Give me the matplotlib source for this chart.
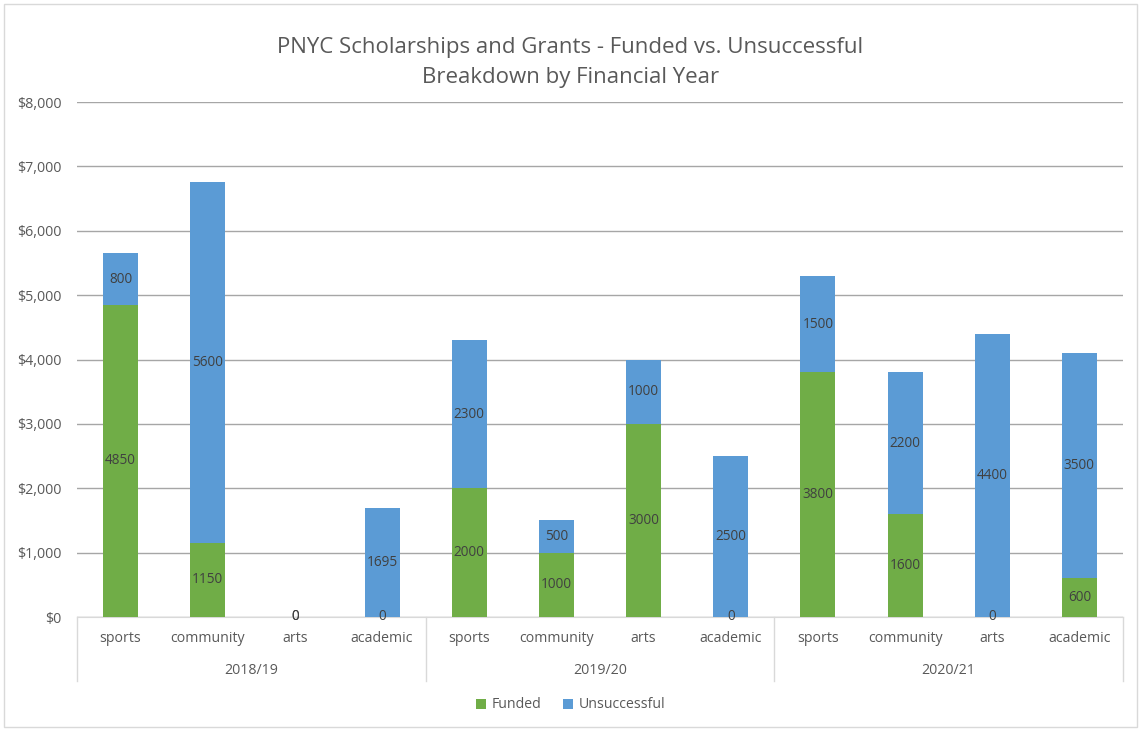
import numpy as np
import matplotlib.pyplot as plt
from matplotlib.patches import Rectangle
from matplotlib.ticker import FuncFormatter
import matplotlib.transforms as mtransforms

plt.rcParams['font.family'] = ['Open Sans', 'DejaVu Sans']

# Data
years = ["2018/19", "2019/20", "2020/21"]
categories = ["sports", "community", "arts", "academic"]
funded = [4850, 1150, 0, 0,
          2000, 1000, 3000, 0,
          3800, 1600, 0, 600]
unsuccessful = [800, 5600, 0, 1695,
                2300, 500, 1000, 2500,
                1500, 2200, 4400, 3500]
title_lines = ["PNYC Scholarships and Grants - Funded vs. Unsuccessful",
               "Breakdown by Financial Year"]

green = "#70ad47"
blue = "#5b9bd5"
text_col = "#595959"
label_col = "#404040"

W, H = 1141, 731
fig = plt.figure(figsize=(W / 100, H / 100), dpi=100)
ax = fig.add_axes([77 / W, 1 - 617 / H, (1123 - 77) / W, (617 - 102) / H])

x = np.arange(len(funded))
b1 = ax.bar(x, funded, width=0.4, color=green, label="Funded", zorder=3)
b2 = ax.bar(x, unsuccessful, width=0.4, bottom=funded, color=blue,
            label="Unsuccessful", zorder=3)

# data labels
for i in range(len(x)):
    ax.text(x[i], funded[i] / 2, str(funded[i]), ha="center", va="center",
            fontsize=9.8, color=label_col, zorder=4)
    ax.text(x[i], funded[i] + unsuccessful[i] / 2, str(unsuccessful[i]),
            ha="center", va="center", fontsize=9.8, color=label_col, zorder=4)

ax.set_xlim(-0.5, len(x) - 0.5)
ax.set_ylim(0, 8000)
ax.set_yticks(np.arange(0, 8001, 1000))
ax.yaxis.set_major_formatter(FuncFormatter(lambda v, p: "${:,.0f}".format(v)))
ax.tick_params(axis="y", length=0, pad=11, labelsize=10.3, labelcolor=text_col)
ax.set_xticks([])
ax.grid(axis="y", color="#a6a6a6", linewidth=1, zorder=0)
for s in ["top", "right", "left"]:
    ax.spines[s].set_visible(False)
ax.spines["bottom"].set_color("#d9d9d9")
ax.spines["bottom"].set_zorder(2)

# multi-level category axis
ah = 617 - 102
trans = mtransforms.blended_transform_factory(ax.transData, ax.transAxes)
for i in range(len(x)):
    ax.text(x[i], -21 / ah, categories[i % 4], transform=trans, ha="center",
            va="center", fontsize=10.2, color=text_col)
for g, yr in enumerate(years):
    ax.text(g * 4 + 1.5, -53 / ah, yr, transform=trans, ha="center",
            va="center", fontsize=10.2, color=text_col)
for b in [-0.5, 3.5, 7.5, 11.5]:
    ax.plot([b, b], [0, -64 / ah], transform=trans, color="#d9d9d9",
            linewidth=1, clip_on=False)

fig.text(0.5, 1 - 47 / H, title_lines[0], ha="center", va="center",
         fontsize=16, color=text_col)
fig.text(0.5, 1 - 78 / H, title_lines[1], ha="center", va="center",
         fontsize=16, color=text_col)

fig.legend(handles=[b1, b2], loc="center", bbox_to_anchor=(0.5, 1 - 705 / H),
           ncol=2, frameon=False, fontsize=10.2, labelcolor=text_col,
           handlelength=0.7, handleheight=0.7, handletextpad=0.4,
           columnspacing=1.5)

fig.add_artist(Rectangle((4 / W, 4 / H), 1 - 8 / W, 1 - 8 / H,
                         transform=fig.transFigure, fill=False,
                         edgecolor="#d9d9d9", linewidth=1))

fig.savefig("out.png", dpi=100)
